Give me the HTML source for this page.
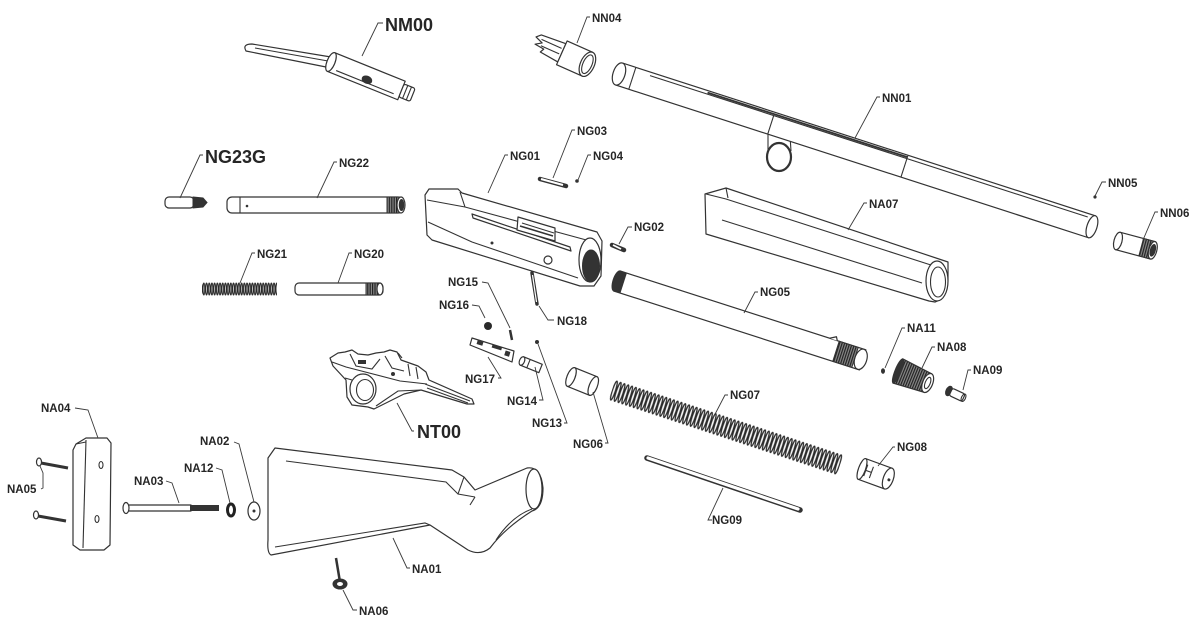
<!DOCTYPE html>
<html><head><meta charset="utf-8"><style>
html,body{margin:0;padding:0;background:#fff;}
svg{display:block;}
text{font-family:"Liberation Sans",Arial,sans-serif;font-weight:bold;fill:#262626;}
.s{font-size:11.5px;}
.L{font-size:18px;}
.o{fill:#fff;stroke:#333;stroke-width:1.2;stroke-linejoin:round;}
.n{fill:none;stroke:#333;stroke-width:1.1;}
.d{fill:#333;stroke:#333;stroke-width:1;}
.ld{fill:none;stroke:#3a3a3a;stroke-width:0.9;}
</style></head><body>
<svg width="1200" height="629" viewBox="0 0 1200 629" xmlns="http://www.w3.org/2000/svg">
<defs>
<pattern id="sp7" width="4" height="24" patternUnits="userSpaceOnUse" x="0" y="-12">
<ellipse cx="2" cy="12" rx="1.5" ry="10" fill="none" stroke="#2a2a2a" stroke-width="1.3"/>
</pattern>
<pattern id="sp21" width="2.7" height="16" patternUnits="userSpaceOnUse" x="0" y="281">
<ellipse cx="1.35" cy="8" rx="0.9" ry="6" fill="none" stroke="#2a2a2a" stroke-width="1.1"/>
</pattern>
<pattern id="kn" width="2.4" height="30" patternUnits="userSpaceOnUse">
<rect width="2.4" height="30" fill="#888"/>
<line x1="0.6" y1="0" x2="0.6" y2="30" stroke="#222" stroke-width="1.2"/>
</pattern>
</defs>

<!-- NM00 -->
<path class="o" d="M331 57 L252 44 Q242 44 246 51 L331 68 Z"/>
<line class="n" x1="255" y1="48" x2="328" y2="61"/>
<g transform="translate(331,62) rotate(22)">
<rect class="o" x="0" y="-10" width="76" height="20"/>
<ellipse class="o" cx="0" cy="0" rx="4" ry="10"/>
<line class="n" x1="8" y1="6" x2="70" y2="6"/>
<rect class="o" x="76" y="-7" width="12" height="14" rx="2"/>
<line class="n" x1="80" y1="-7" x2="80" y2="7"/>
<line class="n" x1="84" y1="-7" x2="84" y2="7"/>
<ellipse class="d" cx="40" cy="3" rx="5" ry="3.5"/>
</g>

<!-- NN04 -->
<g transform="translate(560,52) rotate(24)">
<path class="o" d="M-24 -8 L2 -10 L2 10 L-18 8 L-16 4 L-26 3 L-20 -1 L-28 -4 Z"/>
<line class="n" x1="-22" y1="-4" x2="0" y2="-4"/>
<line class="n" x1="-20" y1="2" x2="0" y2="2"/>
<rect class="o" x="2" y="-13" width="28" height="26"/>
<ellipse class="o" cx="30" cy="0" rx="7" ry="13"/>
<ellipse class="n" cx="30" cy="0" rx="4.5" ry="10"/>
</g>

<!-- NN01 barrel -->
<ellipse cx="779" cy="157" rx="12" ry="14" fill="none" stroke="#333" stroke-width="2.2"/>
<line class="n" x1="768" y1="132" x2="768" y2="150"/>
<line class="n" x1="790" y1="136" x2="791" y2="151"/>
<g transform="translate(619,74) rotate(17.9)">
<rect class="o" x="0" y="-11.5" width="497" height="23"/>
<ellipse class="o" cx="0" cy="0" rx="6" ry="11.5"/>
<line class="n" x1="14" y1="-11.5" x2="14" y2="11.5"/>
<line class="n" x1="30" y1="-8" x2="490" y2="-8"/>
<line x1="90" y1="-9.5" x2="300" y2="-9.5" stroke="#333" stroke-width="1.8"/>
<line class="n" x1="300" y1="-11" x2="300" y2="11"/>
<line class="n" x1="160" y1="-8" x2="160" y2="11"/>
<ellipse class="o" cx="497" cy="0" rx="5" ry="11.5"/>
</g>
<circle cx="1095" cy="197" r="1.6" fill="#333"/>

<!-- NN06 -->
<g transform="translate(1118,241) rotate(15)">
<rect class="o" x="0" y="-9" width="36" height="18"/>
<ellipse class="o" cx="0" cy="0" rx="4" ry="9"/>
<rect x="24" y="-9" width="12" height="18" fill="url(#kn)" stroke="#333"/>
<ellipse class="o" cx="36" cy="0" rx="4" ry="9"/>
<ellipse class="d" cx="36" cy="0" rx="2.5" ry="6"/>
</g>

<!-- NG23G -->
<rect class="o" x="165" y="197" width="29" height="11" rx="4"/>
<path class="d" d="M193 197 L203 198 L207 202.5 L203 207 L193 208 Z"/>

<!-- NG22 -->
<rect class="o" x="227" y="197" width="176" height="16" rx="5"/>
<line class="n" x1="240" y1="197" x2="240" y2="213"/>
<circle cx="247" cy="206" r="1.3" fill="#333"/>
<rect x="387" y="197" width="13" height="16" fill="url(#kn)" stroke="#333"/>
<ellipse class="o" cx="401" cy="205" rx="4" ry="8"/>
<ellipse class="d" cx="401.5" cy="205" rx="2.3" ry="5.5"/>

<!-- NG21 spring -->
<rect x="202" y="282" width="75" height="14" fill="url(#sp21)"/>

<!-- NG20 -->
<rect class="o" x="295" y="283" width="88" height="12" rx="4"/>
<rect x="366" y="283" width="12" height="12" fill="url(#kn)" stroke="#333"/>
<ellipse class="o" cx="380" cy="289" rx="3" ry="6"/>

<!-- NG01 receiver -->
<path class="o" d="M425 195 L429 189 L458 189 L462 193 L597 232 L602 241 L601 276 L594 286 L580 286 L432 240 L427 235 Z"/>
<path class="n" d="M427 200 L465 207 L590 241"/>
<line class="n" x1="460" y1="192" x2="465" y2="207"/>
<path class="n" d="M428 222 L472 242 L578 278"/>
<path class="o" d="M472 214 L570 247 L571 251 L473 218 Z"/>
<path class="o" d="M518 217 L555 228 L555 241 L517 230 Z"/>
<line class="n" x1="522" y1="223" x2="554" y2="233"/>
<line x1="520" y1="226" x2="553" y2="236" stroke="#333" stroke-width="1.5"/>
<ellipse class="o" cx="590" cy="260" rx="11" ry="22"/>
<ellipse class="d" cx="591" cy="266" rx="8.5" ry="16"/>
<circle class="o" cx="548" cy="260" r="4"/>
<circle cx="492" cy="243" r="1.5" fill="#333"/>

<!-- NG03 / NG04 / NG02 -->
<line x1="540" y1="179" x2="566" y2="186" stroke="#333" stroke-width="4.5" stroke-linecap="round"/>
<line x1="541" y1="179" x2="563" y2="185" stroke="#fff" stroke-width="2"/>
<circle cx="577" cy="181" r="1.8" fill="#333"/>
<line x1="612" y1="245" x2="624" y2="250" stroke="#333" stroke-width="4.5" stroke-linecap="round"/>
<line x1="613" y1="245" x2="621" y2="249" stroke="#fff" stroke-width="1.8"/>

<!-- NA07 forend -->
<path class="o" d="M705 194 L726 188 L948 262 L948 280 Q946 298 935 302 L929 301 L706 234 Z"/>
<path class="n" d="M706 194 L726 199 L934 266"/>
<line class="n" x1="726" y1="188" x2="728" y2="198"/>
<line class="n" x1="722" y1="220" x2="922" y2="283"/>
<ellipse class="o" cx="937" cy="281" rx="11" ry="20"/>
<ellipse class="n" cx="938" cy="282" rx="7.5" ry="15"/>

<!-- NG05 magazine tube -->
<g transform="translate(617,281) rotate(17.8)">
<rect class="o" x="0" y="-10.5" width="258" height="21"/>
<rect x="0" y="-10.5" width="7" height="21" fill="#333"/>
<ellipse class="d" cx="0" cy="0" rx="4" ry="10.5"/>
<rect x="230" y="-10.5" width="20" height="21" fill="url(#kn)" stroke="#333"/>
<path class="o" d="M220 -10.5 L226 -14 L228 -10.5"/>
<ellipse class="o" cx="256" cy="0" rx="6" ry="10.5"/>
</g>

<!-- NA11 NA08 NA09 -->
<ellipse cx="883" cy="371" rx="2" ry="2.8" fill="#333"/>
<g transform="translate(898,371) rotate(22)">
<path d="M0 -13 L32 -10 L32 10 L0 13 Z" fill="url(#kn)" stroke="#333" stroke-width="1.2"/>
<ellipse class="d" cx="0" cy="0" rx="3" ry="13"/>
<ellipse class="o" cx="32" cy="0" rx="5" ry="10"/>
<ellipse class="n" cx="32" cy="0" rx="2.5" ry="6"/>
</g>
<g transform="translate(949,391) rotate(25)">
<ellipse class="d" cx="0" cy="0" rx="3" ry="5"/>
<rect class="o" x="2" y="-4" width="14" height="8" rx="2"/>
<ellipse class="n" cx="16" cy="0" rx="2" ry="4"/>
</g>

<!-- NG06 -->
<g transform="translate(571,377) rotate(22)">
<rect class="o" x="0" y="-10" width="24" height="20"/>
<ellipse class="o" cx="0" cy="0" rx="4" ry="10"/>
<ellipse class="o" cx="24" cy="0" rx="4" ry="10"/>
</g>

<!-- NG07 spring -->
<g transform="translate(612,390) rotate(18.2)">
<rect x="0" y="-12" width="240" height="24" fill="url(#sp7)"/>
</g>

<!-- NG08 -->
<g transform="translate(862,469) rotate(20)">
<rect class="o" x="0" y="-11" width="28" height="22"/>
<ellipse class="o" cx="0" cy="0" rx="3.5" ry="11"/>
<ellipse class="o" cx="28" cy="0" rx="5" ry="11"/>
<circle cx="29" cy="1" r="1.5" fill="#333"/>
<path class="n" d="M4 -6 L4 6 M4 0 L10 0 M10 -6 L10 6" stroke-width="1.6"/>
</g>

<!-- NG09 rod -->
<line x1="647" y1="458" x2="800" y2="510" stroke="#333" stroke-width="5.5" stroke-linecap="round"/>
<line x1="648" y1="458" x2="798" y2="509" stroke="#fff" stroke-width="3.2" stroke-linecap="round"/>

<!-- small parts NG15 NG16 NG18 NG17 NG14 NG13 -->
<line x1="510" y1="330" x2="512" y2="340" stroke="#333" stroke-width="2.5"/>
<circle cx="488" cy="326" r="4" fill="#2a2a2a"/>
<line x1="532" y1="273" x2="537" y2="304" stroke="#333" stroke-width="3.5" stroke-linecap="round"/>
<line x1="532.5" y1="275" x2="536.5" y2="302" stroke="#fff" stroke-width="1.2"/>
<path class="o" d="M472 338 L514 351 L512 362 L470 345 Z" stroke-width="1.6"/>
<rect x="477" y="341" width="6" height="4" fill="#333" transform="rotate(17 480 343)"/>
<rect x="492" y="346" width="10" height="3" fill="#333" transform="rotate(17 497 347)"/>
<rect x="505" y="351" width="5" height="5" fill="#333" transform="rotate(17 507 353)"/>
<g transform="translate(522,361) rotate(22)">
<rect class="o" x="0" y="-4.5" width="20" height="9" stroke-width="1.5"/>
<ellipse class="o" cx="0" cy="0" rx="2.5" ry="4.5"/>
<line class="n" x1="7" y1="-4.5" x2="7" y2="4.5"/>
</g>
<circle cx="537" cy="342" r="2" fill="#333"/>

<!-- NT00 trigger group -->
<path class="o" d="M330 358 L338 353 L345 352 L352 350 L358 354 L368 355 L376 353 L384 352 L390 350 L397 352 L401 360 L418 366 L426 372 L429 380 L472 399 L474 404 L467 404 L421 390 L404 394 L374 409 L368 407 L352 405 L347 397 L346 380 L333 366 Z"/>
<ellipse class="o" cx="363" cy="389" rx="13" ry="15"/>
<ellipse class="n" cx="365" cy="390" rx="8.5" ry="10.5"/>
<path class="n" d="M332 362 L346 367 L400 381 L427 384"/>
<path class="n" d="M376 406 L398 391 L421 390"/>
<path class="n" d="M350 354 L356 366 L372 369 L380 359"/>
<path class="n" d="M385 356 L392 368 L404 371"/>
<path class="n" d="M398 353 L402 358"/>
<line class="n" x1="425" y1="384" x2="470" y2="401"/>
<line class="n" x1="427" y1="388" x2="468" y2="403"/>
<rect x="358" y="360" width="8" height="4" fill="#333"/>
<circle cx="393" cy="374" r="2" fill="#333"/>
<line class="n" x1="408" y1="364" x2="410" y2="376"/>
<line class="n" x1="416" y1="367" x2="418" y2="379"/>
<line class="n" x1="345" y1="378" x2="352" y2="380"/>

<!-- NA04 butt pad -->
<path class="o" d="M76 444 L86 438 L107 438 L111 443 L110 545 L104 550 L80 550 L73 545 L73 450 Z"/>
<path class="n" d="M86 440 L83 548"/>
<path class="n" d="M76 444 L86 442"/>
<ellipse class="n" cx="101" cy="465" rx="2" ry="3.5"/>
<ellipse class="n" cx="97" cy="519" rx="2" ry="3.5"/>

<!-- NA05 screws -->
<line x1="41" y1="463" x2="68" y2="468" stroke="#333" stroke-width="3"/>
<ellipse class="o" cx="39" cy="462" rx="2.5" ry="4"/>
<line x1="38" y1="516" x2="66" y2="521" stroke="#333" stroke-width="3"/>
<ellipse class="o" cx="36" cy="515" rx="2.5" ry="4"/>

<!-- NA03 bolt -->
<rect class="o" x="127" y="505" width="64" height="6"/>
<rect x="190" y="505" width="29" height="6" fill="#333"/>
<ellipse class="o" cx="126" cy="508" rx="3" ry="5.5"/>

<!-- NA12 / NA02 washers -->
<ellipse cx="231" cy="510" rx="3.5" ry="6" fill="none" stroke="#222" stroke-width="3"/>
<ellipse class="o" cx="254" cy="511" rx="6" ry="9"/>
<circle cx="254" cy="511" r="1.5" fill="#333"/>

<!-- NA01 stock -->
<path class="o" d="M275 448 L452 470 L464 477 L475 490 L527 468 Q541 466 543 488 Q543 508 532 511 Q505 528 490 548 Q480 556 468 550 L430 525 L271 555 Q267 553 268 540 L268 458 Z"/>
<path class="n" d="M286 461 L446 482 L458 494 L475 497"/>
<path class="n" d="M458 494 L464 477"/>
<path class="n" d="M275 547 L425 523 L430 525"/>
<path class="n" d="M475 497 L470 505"/>
<ellipse class="o" cx="534" cy="489" rx="8" ry="20"/>
<path class="n" d="M532 509 Q512 516 496 540"/>

<!-- NA06 -->
<line x1="336" y1="558" x2="340" y2="582" stroke="#333" stroke-width="2.5"/>
<ellipse class="d" cx="340" cy="584" rx="7" ry="5"/>
<ellipse cx="340" cy="584" rx="3" ry="2" fill="#fff"/>

<!-- leaders -->
<path class="ld" d="M383 23 L378 23 L362 56"/>
<path class="ld" d="M590 17 L587 17 L577 43"/>
<path class="ld" d="M880 97 L877 97 L855 138"/>
<path class="ld" d="M575 130 L572 130 L553 178"/>
<path class="ld" d="M591 155 L588 155 L578 180"/>
<path class="ld" d="M508 155 L505 155 L488 193"/>
<path class="ld" d="M203 155 L200 155 L180 198"/>
<path class="ld" d="M337 162 L334 162 L317 198"/>
<path class="ld" d="M1106 182 L1102 182 L1095 196"/>
<path class="ld" d="M867 203 L864 203 L848 230"/>
<path class="ld" d="M1158 212 L1155 212 L1143 240"/>
<path class="ld" d="M632 227 L628 227 L619 244"/>
<path class="ld" d="M255 253 L252 253 L240 283"/>
<path class="ld" d="M352 253 L349 253 L338 283"/>
<path class="ld" d="M758 292 L755 292 L744 313"/>
<path class="ld" d="M482 282 L488 283 L510 328"/>
<path class="ld" d="M472 305 L479 306 L485 318"/>
<path class="ld" d="M554 320 L548 320 L539 306"/>
<path class="ld" d="M905 328 L902 328 L885 368"/>
<path class="ld" d="M935 347 L932 347 L922 368"/>
<path class="ld" d="M971 370 L968 370 L963 390"/>
<path class="ld" d="M498 378 L501 378 L488 357"/>
<path class="ld" d="M728 395 L725 395 L712 420"/>
<path class="ld" d="M539 400 L543 400 L535 367"/>
<path class="ld" d="M75 408 L88 410 L98 438"/>
<path class="ld" d="M564 423 L567 423 L538 344"/>
<path class="ld" d="M414 431 L412 431 L397 403"/>
<path class="ld" d="M605 443 L608 443 L593 392"/>
<path class="ld" d="M234 442 L239 444 L254 502"/>
<path class="ld" d="M895 447 L893 447 L878 466"/>
<path class="ld" d="M216 468 L222 470 L230 503"/>
<path class="ld" d="M166 481 L172 483 L179 503"/>
<path class="ld" d="M41 489 L43 488 L43 473 L40 466"/>
<path class="ld" d="M712 520 L708 520 L723 488"/>
<path class="ld" d="M410 568 L407 568 L393 538"/>
<path class="ld" d="M357 610 L353 610 L343 590"/>

<!-- labels -->
<text class="L" x="385" y="31">NM00</text>
<text class="L" x="205" y="163">NG23G</text>
<text class="L" x="417" y="438">NT00</text>
<text class="s" x="592" y="22">NN04</text>
<text class="s" x="882" y="102">NN01</text>
<text class="s" x="577" y="135">NG03</text>
<text class="s" x="593" y="160">NG04</text>
<text class="s" x="510" y="160">NG01</text>
<text class="s" x="339" y="167">NG22</text>
<text class="s" x="1108" y="187">NN05</text>
<text class="s" x="869" y="208">NA07</text>
<text class="s" x="1160" y="217">NN06</text>
<text class="s" x="634" y="231">NG02</text>
<text class="s" x="257" y="258">NG21</text>
<text class="s" x="354" y="258">NG20</text>
<text class="s" x="760" y="296">NG05</text>
<text class="s" x="448" y="286">NG15</text>
<text class="s" x="439" y="309">NG16</text>
<text class="s" x="557" y="325">NG18</text>
<text class="s" x="907" y="332">NA11</text>
<text class="s" x="937" y="351">NA08</text>
<text class="s" x="973" y="374">NA09</text>
<text class="s" x="465" y="383">NG17</text>
<text class="s" x="730" y="399">NG07</text>
<text class="s" x="507" y="405">NG14</text>
<text class="s" x="41" y="412">NA04</text>
<text class="s" x="532" y="427">NG13</text>
<text class="s" x="573" y="448">NG06</text>
<text class="s" x="200" y="445">NA02</text>
<text class="s" x="897" y="451">NG08</text>
<text class="s" x="184" y="472">NA12</text>
<text class="s" x="134" y="485">NA03</text>
<text class="s" x="7" y="493">NA05</text>
<text class="s" x="712" y="524">NG09</text>
<text class="s" x="412" y="573">NA01</text>
<text class="s" x="359" y="615">NA06</text>
</svg>
</body></html>
